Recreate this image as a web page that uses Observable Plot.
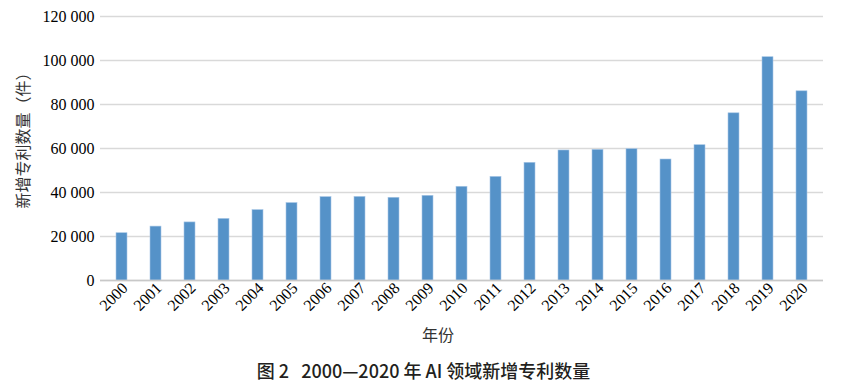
<!DOCTYPE html>
<html>
<head>
<meta charset="utf-8">
<script src="https://cdn.jsdelivr.net/npm/d3@7"></script>
<script src="https://cdn.jsdelivr.net/npm/@observablehq/plot@0.6"></script>
<style>
  html, body { margin: 0; padding: 0; background: #fff; }
  #chart { width: 847px; height: 350px; }
  #caption { width: 847px; text-align: center; font-family: "Noto Sans CJK SC", sans-serif; font-size: 18px; font-weight: 500; color: #231f20; line-height: 20px; margin-top: 10px; white-space: pre; }
</style>
</head>
<body>
<div id="chart"></div>
<div id="caption">图 2   2000—2020 年 AI 领域新增专利数量</div>
<script>
const years = ["2000","2001","2002","2003","2004","2005","2006","2007","2008","2009","2010","2011","2012","2013","2014","2015","2016","2017","2018","2019","2020"];
const patents = [21500, 24500, 26400, 28000, 32000, 35200, 37900, 38000, 37600, 38500, 42600, 47100, 53500, 59100, 59400, 59700, 55000, 61500, 76000, 101500, 86000];
const yTicks = [0, 20000, 40000, 60000, 80000, 100000, 120000];
const xLabel = "年份";
const yLabel = "新增专利数量（件）";

const data = years.map((y, i) => ({year: y, value: patents[i]}));
const fmt = d => d3.format(",")(d).replace(/,/g, " ");
const serif = "'Liberation Serif', 'Times New Roman', serif";

const chart = Plot.plot({
  width: 847,
  height: 350,
  marginLeft: 100,
  marginRight: 24,
  marginTop: 16,
  marginBottom: 70,
  style: {fontFamily: serif, fontSize: "16px", color: "#000", background: "#fff"},
  x: {domain: years, paddingInner: 0.69, paddingOuter: 0.345, label: null},
  y: {domain: [0, 120000], label: null},
  marks: [
    Plot.gridY(yTicks, {stroke: "#d9d9d9", strokeOpacity: 1, strokeWidth: 1.3}),
    Plot.axisY(yTicks, {tickSize: 0, tickPadding: 6, tickFormat: fmt, label: null, fontSize: 16, fontFamily: serif, fill: "#000"}),
    Plot.barY(data, {x: "year", y: "value", fill: "#5592c8", stroke: "#a8c7e6", strokeWidth: 0.6}),
    Plot.ruleY([0], {stroke: "#c8c8c8", strokeWidth: 1.5}),
    Plot.axisX({tickSize: 0, tickRotate: -45, tickPadding: 5, dx: 3, label: null, fontSize: 16, fontFamily: serif, fill: "#000"}),
    Plot.text([xLabel], {text: d => d, frameAnchor: "bottom", lineAnchor: "middle", textAnchor: "middle", dx: -24, dy: 55, fontFamily: "'Noto Sans CJK SC', sans-serif", fontSize: 16, fill: "#333"}),
    Plot.text([yLabel], {text: d => d, frameAnchor: "left", lineAnchor: "middle", textAnchor: "middle", rotate: -90, dx: -77, dy: -12, fontFamily: "'Noto Sans CJK SC', sans-serif", fontSize: 16, fill: "#333"})
  ]
});
document.getElementById("chart").appendChild(chart);
</script>
</body>
</html>
